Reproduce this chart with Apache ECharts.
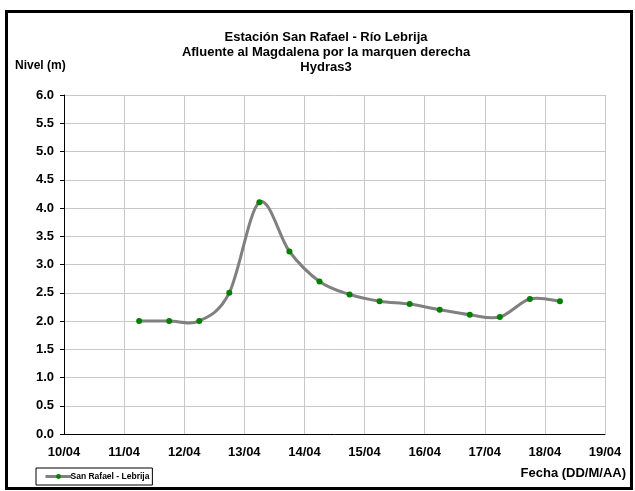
<!DOCTYPE html>
<html>
<head>
<meta charset="utf-8">
<script src="https://cdn.jsdelivr.net/npm/echarts@6/dist/echarts.min.js"></script>
<style>
html,body{margin:0;padding:0;background:#fff;}
#c{width:635px;height:491px;}
</style>
</head>
<body>
<div id="c"></div>
<script>
// Data (day of April, level in m)
var days = [11.25, 11.75, 12.25, 12.75, 13.25, 13.75, 14.25, 14.75, 15.25, 15.75, 16.25, 16.75, 17.25, 17.75, 18.25];
var levels = [2.00, 2.00, 2.00, 2.50, 4.10, 3.23, 2.70, 2.47, 2.35, 2.30, 2.20, 2.11, 2.07, 2.39, 2.35];
var xTickLabels = ['10/04','11/04','12/04','13/04','14/04','15/04','16/04','17/04','18/04','19/04'];
var titleLines = ['Estación San Rafael - Río Lebrija', 'Afluente al Magdalena por la marquen derecha', 'Hydras3'];
var seriesName = 'San Rafael - Lebrija';

var FONT = '"Liberation Sans", Arial, sans-serif';
var chart = echarts.init(document.getElementById('c'), null, {renderer:'canvas'});
var pts = days.map(function(d,i){return [d, levels[i]];});

// Smoothed curve (Catmull-Rom style Bezier through the data points, in pixel space)
function renderCurve(params, api){
  var i = params.dataIndex, n = pts.length;
  if (i >= n - 1) return null;
  function P(k){ k = Math.max(0, Math.min(n - 1, k)); return api.coord(pts[k]); }
  var p0 = P(i-1), p1 = P(i), p2 = P(i+1), p3 = P(i+2);
  return {
    type:'bezierCurve',
    shape:{
      x1:p1[0], y1:p1[1], x2:p2[0], y2:p2[1],
      cpx1:p1[0] + (p2[0]-p0[0])/6, cpy1:p1[1] + (p2[1]-p0[1])/6,
      cpx2:p2[0] - (p3[0]-p1[0])/6, cpy2:p2[1] - (p3[1]-p1[1])/6
    },
    style:{stroke:'#808080', lineWidth:3, fill:null, lineCap:'round'}
  };
}

chart.setOption({
  animation:false,
  backgroundColor:'#fff',
  grid:{left:64, right:30, top:95, bottom:57, containLabel:false},
  xAxis:{
    type:'value', min:10, max:19, interval:1,
    axisLine:{show:true, onZero:false, lineStyle:{color:'#000', width:1}},
    axisTick:{show:false},
    axisLabel:{margin:12, color:'#000', fontWeight:'bold', fontSize:13, fontFamily:FONT,
      formatter:function(v){return xTickLabels[Math.round(v-10)];}},
    splitLine:{show:true, lineStyle:{color:'#c8c8c8', width:1}}
  },
  yAxis:{
    type:'value', min:0, max:6, interval:0.5,
    axisLine:{show:true, lineStyle:{color:'#000', width:1}},
    axisTick:{show:true, length:4, lineStyle:{color:'#000'}},
    axisLabel:{margin:10, color:'#000', fontWeight:'bold', fontSize:13, fontFamily:FONT,
      formatter:function(v){return v.toFixed(1);}},
    splitLine:{show:true, lineStyle:{color:'#c8c8c8', width:1}}
  },
  legend:{
    show:true, left:36, top:468, orient:'horizontal',
    borderColor:'#000', borderWidth:1, padding:[4,3,4,8],
    itemWidth:26, itemHeight:6, itemGap:2,
    lineStyle:{color:'#808080', width:3, opacity:1},
    textStyle:{color:'#000', fontWeight:'bold', fontSize:8.5, fontFamily:FONT, padding:[0,0,0,-6]},
    data:[{name:seriesName}]
  },
  graphic:[
    {type:'rect', silent:true, z:100, shape:{x:6.5, y:11.5, width:625, height:477},
      style:{fill:'none', stroke:'#000', lineWidth:3}},
    {type:'text', x:326, y:30, silent:true,
      style:{text:titleLines.join('\n'), align:'center', verticalAlign:'top', fill:'#000', font:'bold 13px '+FONT, lineHeight:15}},
    {type:'text', x:15, y:60, silent:true,
      style:{text:'Nivel (m)', fill:'#000', font:'bold 12px '+FONT, verticalAlign:'top'}},
    {type:'text', x:626, y:467, silent:true,
      style:{text:'Fecha (DD/M/AA)', align:'right', verticalAlign:'top', fill:'#000', font:'bold 13px '+FONT}}
  ],
  series:[
    {
      name:'curve', type:'custom', data:pts, renderItem:renderCurve,
      encode:{x:0, y:1}, z:1, silent:true, clip:false
    },
    {
      name:seriesName, type:'line', data:pts, smooth:false,
      symbol:'circle', symbolSize:6,
      lineStyle:{color:'#808080', width:3, opacity:0},
      itemStyle:{color:'#008000', borderColor:'#008000', borderWidth:0},
      z:3
    }
  ]
});
</script>
</body>
</html>
